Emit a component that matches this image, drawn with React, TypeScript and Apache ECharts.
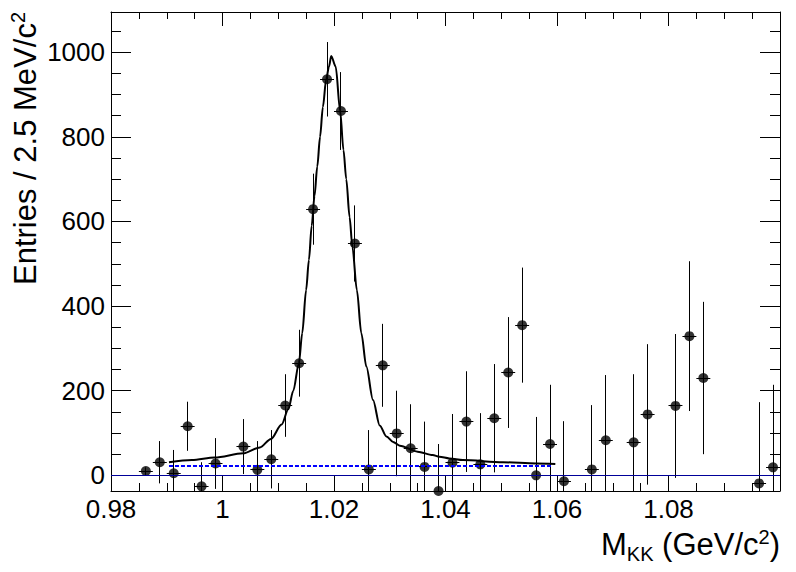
import React, { useEffect, useRef } from 'react';
import * as echarts from 'echarts';

const FONT = '"Liberation Sans", Arial, Helvetica, sans-serif';

const xMin = 0.98;
const xMax = 1.1;
const yMin = -37;
const yMax = 1095;

// Histogram bins (2.5 MeV wide)
const binCenters = [
  0.98625, 0.98875, 0.99125, 0.99375, 0.99625, 0.99875, 1.00375, 1.00625,
  1.00875, 1.01125, 1.01375, 1.01625, 1.01875, 1.02125, 1.02375, 1.02625,
  1.02875, 1.03125, 1.03375, 1.03625, 1.03875, 1.04125, 1.04375, 1.04625,
  1.04875, 1.05125, 1.05375, 1.05625, 1.05875, 1.06125, 1.06625, 1.06875,
  1.07375, 1.07625, 1.08125, 1.08375, 1.08625, 1.09625, 1.09875,
];
const binValues = [
  10, 31, 5, 116, -26, 28, 68, 13,
  38, 165, 265, 629, 936, 861, 548, 14,
  260, 99, 64, 20, -37, 30, 127, 26,
  135, 243, 355, 0, 74, -14, 14, 83,
  78, 144, 164, 329, 230, -19, 19,
];
const binErrors = [
  9, 50, 55, 58, 57, 60, 65, 68,
  69, 74, 79, 84, 88, 92, 90, 93,
  98, 101, 104, 107, 111, 115, 119, 121,
  128, 131, 136, 138, 140, 142, 152, 154,
  161, 166, 170, 177, 180, 192, 195,
];
const binHalfWidth = 0.00125;

// Total fit curve
const fitX = [
  0.9904, 0.9945, 0.9986, 1.0037, 1.0067, 1.0087, 1.0106, 1.0118, 1.0127,
  1.0137, 1.0143, 1.015, 1.0155, 1.016, 1.0165, 1.017, 1.0175, 1.018,
  1.0186, 1.0191, 1.0195, 1.0203, 1.0211, 1.0217, 1.0222, 1.0228, 1.0233,
  1.0241, 1.0249, 1.0258, 1.027, 1.0282, 1.0294, 1.0306, 1.0318, 1.035,
  1.0377, 1.0389, 1.0407, 1.0431, 1.0503, 1.0563, 1.0597,
];
const fitY = [
  31, 36, 42, 52, 66, 86, 120, 156, 200,
  265, 336, 438, 509, 590, 660, 730, 800, 870,
  936, 966, 991, 966, 861, 769, 700, 610, 540,
  438, 336, 257, 178, 118, 92, 79, 70, 56,
  48, 44, 40, 36, 31, 28, 27,
];

// Background component (dashed)
const bkgX = [0.9904, 1.0592];
const bkgY = [22, 22];

const yMajorTicks = [0, 200, 400, 600, 800, 1000];
const yMinorTicks = [
  0, 50, 100, 150, 200, 250, 300, 350, 400, 450, 500, 550,
  600, 650, 700, 750, 800, 850, 900, 950, 1000, 1050,
];

const xTitleMain = 'M';
const xTitleSub = 'KK';
const xTitleMid = ' (GeV/c';
const xTitleSup = '2';
const xTitleEnd = ')';
const yTitleMain = 'Entries / 2.5 MeV/c';
const yTitleSup = '2';

export default function App() {
  const ref = useRef<HTMLDivElement>(null);

  useEffect(() => {
    if (!ref.current) return;
    const chart = echarts.init(ref.current, null, { renderer: 'svg' });

    const cvs = document.createElement('canvas');
    const ctx = cvs.getContext('2d') as CanvasRenderingContext2D;
    const measure = (t: string, s: number) => {
      ctx.font = `${s}px "Liberation Sans"`;
      return ctx.measureText(t).width;
    };

    const F = 31;
    const f = 20;
    const mid = (baseline: number, size: number) => baseline - 0.3465 * size;

    // x title pieces, right aligned at 780
    const xr = 780;
    const xBase = 555;
    const wEnd = measure(xTitleEnd, F);
    const wSup = measure(xTitleSup, f);
    const wMid = measure(xTitleMid, F);
    const wSub = measure(xTitleSub, f);
    const wM = measure(xTitleMain, F);
    const xEnd = xr - wEnd;
    const xSup = xEnd - wSup;
    const xMidP = xSup - wMid;
    const xSub = xMidP - wSub;
    const xM = xSub - wM;

    const txt = (x: number, y: number, text: string, size: number) => ({
      type: 'text',
      x,
      y,
      silent: true,
      style: {
        text,
        fontSize: size,
        fontFamily: FONT,
        fill: '#000',
        textAlign: 'left',
        textVerticalAlign: 'middle',
      },
    });

    const wYMain = measure(yTitleMain, F);
    const wYSup = measure(yTitleSup, f);

    const fmtX = (v: number) => {
      if (v > 1.099) return '';
      return String(Number(v.toFixed(2)));
    };
    const fmtY = (v: number) => String(Math.round(v));

    const axisLineStyle = { color: '#000', width: 1 };
    const snap = (v: number) => Math.round(v - 0.5) + 0.5;

    chart.setOption({
      animation: false,
      backgroundColor: '#fff',
      grid: { left: 111, right: 16, top: 12, bottom: 81, containLabel: false, outerBoundsMode: 'none' },
      xAxis: [
        {
          type: 'value',
          min: xMin,
          max: xMax,
          interval: 0.02,
          position: 'bottom',
          axisLine: { show: true, onZero: false, lineStyle: axisLineStyle },
          axisTick: { show: true, inside: true, length: 15, lineStyle: axisLineStyle },
          minorTick: { show: true, splitNumber: 4, length: 8, lineStyle: axisLineStyle },
          axisLabel: { margin: 5, fontSize: 26, fontFamily: FONT, color: '#000', formatter: fmtX },
          splitLine: { show: false },
          minorSplitLine: { show: false },
        },
        {
          type: 'value',
          min: xMin,
          max: xMax,
          interval: 0.02,
          position: 'top',
          axisLine: { show: true, onZero: false, lineStyle: axisLineStyle },
          axisTick: { show: true, inside: true, length: 14, lineStyle: axisLineStyle },
          minorTick: { show: true, splitNumber: 4, length: 7, lineStyle: axisLineStyle },
          axisLabel: { show: false },
          splitLine: { show: false },
          minorSplitLine: { show: false },
        },
      ],
      yAxis: [
        {
          type: 'value',
          min: yMin,
          max: yMax,
          position: 'left',
          axisLine: { show: true, onZero: false, lineStyle: axisLineStyle },
          axisTick: { show: true, inside: true, length: 20, customValues: yMajorTicks, lineStyle: axisLineStyle },
          axisLabel: {
            show: true,
            customValues: yMajorTicks,
            margin: 6,
            fontSize: 26,
            fontFamily: FONT,
            color: '#000',
            formatter: fmtY,
          },
          splitLine: { show: false },
        },
        {
          type: 'value',
          min: yMin,
          max: yMax,
          position: 'left',
          axisLine: { show: false, onZero: false },
          axisTick: { show: true, inside: true, length: 10, customValues: yMinorTicks, lineStyle: axisLineStyle },
          axisLabel: { show: false },
          splitLine: { show: false },
        },
        {
          type: 'value',
          min: yMin,
          max: yMax,
          position: 'right',
          axisLine: { show: true, onZero: false, lineStyle: axisLineStyle },
          axisTick: { show: true, inside: true, length: 20, customValues: yMajorTicks, lineStyle: axisLineStyle },
          axisLabel: { show: false },
          splitLine: { show: false },
        },
        {
          type: 'value',
          min: yMin,
          max: yMax,
          position: 'right',
          axisLine: { show: false, onZero: false },
          axisTick: { show: true, inside: true, length: 10, customValues: yMinorTicks, lineStyle: axisLineStyle },
          axisLabel: { show: false },
          splitLine: { show: false },
        },
      ],
      graphic: [
        txt(xM, mid(xBase, F), xTitleMain, F),
        txt(xSub, mid(xBase + 6, f), xTitleSub, f),
        txt(xMidP, mid(xBase, F), xTitleMid, F),
        txt(xSup, mid(xBase - 11, f), xTitleSup, f),
        txt(xEnd, mid(xBase, F), xTitleEnd, F),
        {
          type: 'group',
          x: 36,
          y: 12,
          rotation: Math.PI / 2,
          silent: true,
          children: [
            txt(-(wYMain + wYSup), -0.3465 * F, yTitleMain, F),
            txt(-wYSup, -11 - 0.3465 * f, yTitleSup, f),
          ],
        },
      ],
      series: [
        {
          type: 'custom',
          name: 'errors',
          xAxisIndex: 0,
          yAxisIndex: 0,
          clip: true,
          z: 2,
          data: binCenters.map((c, i) => [c, binValues[i], binErrors[i]]),
          renderItem: (params: any, api: any) => {
            const x = api.value(0);
            const y = api.value(1);
            const e = api.value(2);
            const lo = Math.max(y - e, yMin);
            const hi = Math.min(y + e, yMax);
            const a = api.coord([x, lo]);
            const b = api.coord([x, hi]);
            const l = api.coord([x - binHalfWidth, y]);
            const r = api.coord([x + binHalfWidth, y]);
            const xs = snap(a[0]);
            const ys = snap(l[1]);
            const children: any[] = [
              { type: 'line', shape: { x1: xs, y1: a[1], x2: xs, y2: b[1] }, style: { stroke: '#000', lineWidth: 1 } },
              { type: 'line', shape: { x1: l[0], y1: ys, x2: r[0], y2: ys }, style: { stroke: '#000', lineWidth: 1 } },
            ];
            return { type: 'group', children };
          },
        },
        {
          type: 'scatter',
          name: 'data',
          xAxisIndex: 0,
          yAxisIndex: 0,
          symbol: 'circle',
          symbolSize: 10,
          clip: true,
          z: 3,
          itemStyle: { color: '#000' },
          data: binCenters.map((c, i) => [c, binValues[i]]),
          markLine: {
            silent: true,
            symbol: ['none', 'none'],
            label: { show: false },
            lineStyle: { color: '#000099', width: 1, type: 'solid' },
            data: [{ yAxis: 0 }],
          },
        },
        {
          type: 'line',
          name: 'background',
          xAxisIndex: 0,
          yAxisIndex: 0,
          showSymbol: false,
          z: 4,
          lineStyle: { color: '#0000ff', width: 2, type: [4, 2] },
          data: bkgX.map((x, i) => [x, bkgY[i]]),
        },
        {
          type: 'line',
          name: 'fit',
          xAxisIndex: 0,
          yAxisIndex: 0,
          showSymbol: false,
          smooth: 0.3,
          smoothMonotone: 'x',
          z: 5,
          lineStyle: { color: '#000', width: 2 },
          data: fitX.map((x, i) => [x, fitY[i]]),
        },
      ],
    });

    return () => {
      chart.dispose();
    };
  }, []);

  return (
    <div
      ref={ref}
      style={{ position: 'absolute', left: 0, top: 0, width: 796, height: 572, background: '#fff' }}
    />
  );
}
